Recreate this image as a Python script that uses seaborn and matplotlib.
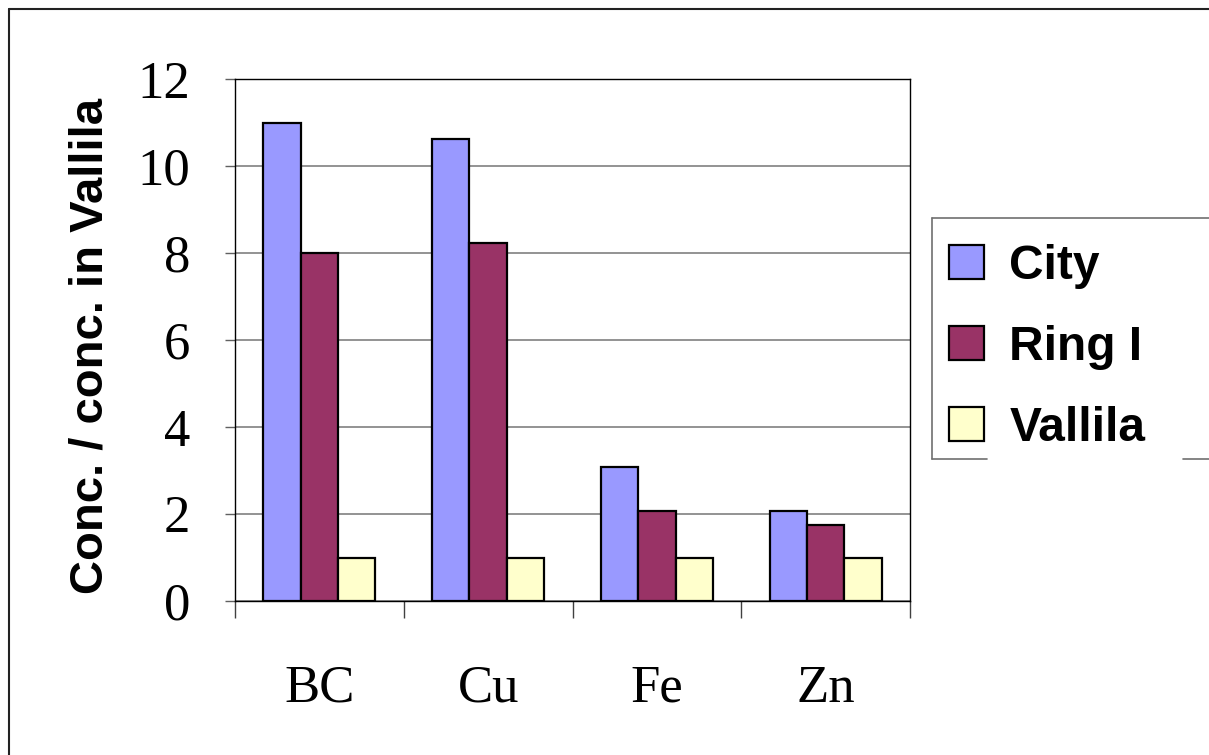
import matplotlib
matplotlib.use("Agg")
import matplotlib.pyplot as plt
from matplotlib.lines import Line2D
import pandas as pd
import seaborn as sns

elements = ["BC", "Cu", "Fe", "Zn"]
sites = ["City", "Ring I", "Vallila"]
city = [11.0, 10.62, 3.08, 2.07]
ring_i = [8.0, 8.23, 2.07, 1.75]
vallila = [1.0, 1.0, 1.0, 1.0]
colors = ["#9999FF", "#993366", "#FFFFCC"]
yticks = [0, 2, 4, 6, 8, 10, 12]

df = pd.DataFrame({
    "element": elements * 3,
    "site": [s for s in sites for _ in elements],
    "value": city + ring_i + vallila,
})

sns.set_style("white")
plt.rcParams["text.color"] = "black"
plt.rcParams["xtick.color"] = "black"
plt.rcParams["ytick.color"] = "black"
plt.rcParams["axes.labelcolor"] = "black"

W, H = 1209, 755
fig = plt.figure(figsize=(W / 100, H / 100), dpi=100)
ax = fig.add_axes([235 / W, 1 - 601 / H, (910 - 235) / W, (601 - 79) / H])

sns.barplot(data=df, x="element", y="value", hue="site", order=elements,
            hue_order=sites, palette=colors, width=0.665, saturation=1,
            edgecolor="black", linewidth=1.6, ax=ax)

ax.set_xlim(-0.5, 3.5)
ax.set_ylim(0, 12)
ax.set_yticks(yticks)
ax.set_yticklabels([str(v) for v in yticks], fontfamily="Liberation Serif", fontsize=38)
ax.set_xticks(range(len(elements)))
ax.set_xticklabels(elements, fontfamily="Liberation Serif", fontsize=38)
ax.set_xticks([-0.5, 0.5, 1.5, 2.5, 3.5], minor=True)
ax.tick_params(axis="x", which="major", length=0, pad=46, labelcolor="black")
ax.tick_params(axis="x", which="minor", length=12, width=1, color="#404040", direction="out", bottom=True)
ax.tick_params(axis="y", length=7.2, width=1, color="#606060", direction="out", pad=25, left=True,
               labelcolor="black")

ax.set_axisbelow(True)
ax.yaxis.grid(True, color="#808080", linewidth=1.2)
for s in ax.spines.values():
    s.set_visible(True)
    s.set_color("black")
    s.set_linewidth(1)

ax.set_xlabel("")
ax.set_ylabel("Conc. / conc. in Vallila", fontfamily="Liberation Sans", fontweight="bold",
              fontsize=34, color="black")
ax.yaxis.set_label_coords(-0.182, 0.489)

h, l = ax.get_legend_handles_labels()
ax.legend().remove()
leg = fig.legend(h, l, loc="upper left", bbox_to_anchor=(949 / W, 1 - 244 / H), frameon=False,
                 prop={"family": "Liberation Sans", "weight": "bold", "size": 34.5},
                 handlelength=0.73, handleheight=0.7, handletextpad=0.53, labelspacing=0.75,
                 borderpad=0, borderaxespad=0)
for t in leg.get_texts():
    t.set_color("black")

def fline(x0, y0, x1, y1, color, lw):
    fig.add_artist(Line2D([x0 / W, x1 / W], [1 - y0 / H, 1 - y1 / H],
                          transform=fig.transFigure, color=color, linewidth=lw))

# legend frame (runs off the right edge like the original)
fline(932, 218, W, 218, "#707070", 1.2)
fline(932, 218, 932, 459, "#707070", 1.2)
fline(932, 459, 987, 459, "#707070", 1.2)
fline(1183, 459, W, 459, "#707070", 1.2)

# outer chart border
fline(9, 9, W, 9, "#222222", 1.5)
fline(9, 9, 9, H, "#222222", 1.5)

fig.savefig("out.png", dpi=100)
